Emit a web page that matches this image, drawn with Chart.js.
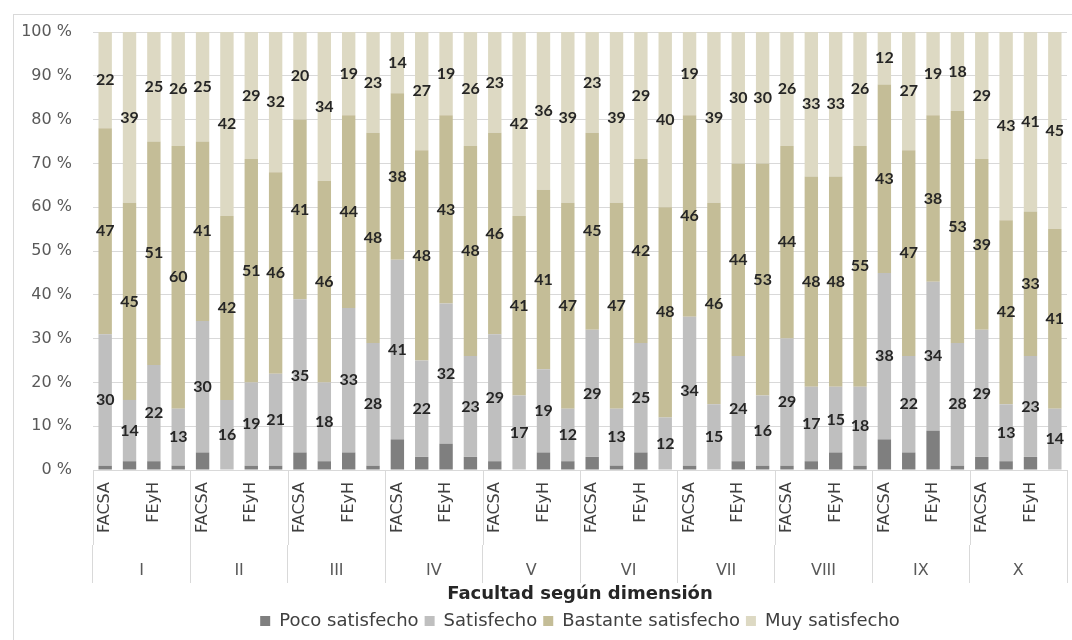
<!DOCTYPE html>
<html>
<head>
<meta charset="utf-8">
<script src="https://cdn.jsdelivr.net/npm/chart.js@4.4.1/dist/chart.umd.min.js"></script>
<style>
  html, body { margin: 0; padding: 0; background: #ffffff; }
  #wrap { position: relative; width: 1072px; height: 640px; overflow: hidden; }
  #frame { position: absolute; left: 13px; top: 14px; width: 1100px; height: 700px;
           border: 1px solid #d9d9d9; pointer-events: none; }
</style>
</head>
<body>
<div id="wrap">
  <canvas id="chart" width="1072" height="640"></canvas>
  <div id="frame"></div>
</div>
<script>
// Dimensions (outer group) and the faculty tick labels shown under each group
const dimensions = ['I', 'II', 'III', 'IV', 'V', 'VI', 'VII', 'VIII', 'IX', 'X'];
const facultyTicks = ['FACSA', '', 'FEyH', ''];
const categories = dimensions.flatMap(() => facultyTicks);

// Percent of respondents per level of satisfaction (4 bars per dimension)
const pocoSatisfecho = [
  1, 2, 2, 1,   4, 0, 1, 1,   4, 2, 4, 1,   7, 3, 6, 3,   2, 0, 4, 2,
  3, 1, 4, 0,   1, 0, 2, 1,   1, 2, 4, 1,   7, 4, 9, 1,   3, 2, 3, 0
];
const satisfecho = [
  30, 14, 22, 13,   30, 16, 19, 21,   35, 18, 33, 28,   41, 22, 32, 23,   29, 17, 19, 12,
  29, 13, 25, 12,   34, 15, 24, 16,   29, 17, 15, 18,   38, 22, 34, 28,   29, 13, 23, 14
];
const bastanteSatisfecho = [
  47, 45, 51, 60,   41, 42, 51, 46,   41, 46, 44, 48,   38, 48, 43, 48,   46, 41, 41, 47,
  45, 47, 42, 48,   46, 46, 44, 53,   44, 48, 48, 55,   43, 47, 38, 53,   39, 42, 33, 41
];
const muySatisfecho = [
  22, 39, 25, 26,   25, 42, 29, 32,   20, 34, 19, 23,   14, 27, 19, 26,   23, 42, 36, 39,
  23, 39, 29, 40,   19, 39, 30, 30,   26, 33, 33, 26,   12, 27, 19, 18,   29, 43, 41, 45
];

const yTicks = [0, 10, 20, 30, 40, 50, 60, 70, 80, 90, 100];

const BASE_FONT = "'DejaVu Sans', 'Open Sans', sans-serif";
const VALUE_FONT = "bold 16px Lato, 'Open Sans', sans-serif";
const LINE = '#d9d9d9';

Chart.defaults.font.family = BASE_FONT;
Chart.defaults.color = '#595959';

// Writes each segment's value in the middle of the segment
const segmentValues = {
  id: 'segmentValues',
  afterDatasetsDraw(chart) {
    const ctx = chart.ctx;
    ctx.save();
    ctx.font = VALUE_FONT;
    ctx.fillStyle = '#262626';
    ctx.textAlign = 'center';
    ctx.textBaseline = 'middle';
    chart.data.datasets.forEach((ds, i) => {
      if (!ds.showValues) return;
      const meta = chart.getDatasetMeta(i);
      meta.data.forEach((bar, j) => {
        ctx.fillText(String(ds.data[j]), bar.x, (bar.y + bar.base) / 2);
      });
    });
    ctx.restore();
  }
};

// Vertical dividers between dimension groups across the faculty label band
const groupDividers = {
  id: 'groupDividers',
  afterDraw(chart) {
    const x = chart.scales.x;
    const ctx = chart.ctx;
    const half = (x.getPixelForValue(1) - x.getPixelForValue(0)) / 2;
    ctx.save();
    ctx.strokeStyle = LINE;
    ctx.lineWidth = 1;
    ctx.beginPath();
    for (let g = 0; g <= dimensions.length; g++) {
      const px = Math.round(x.getPixelForValue(g * facultyTicks.length) - half) + 0.5;
      ctx.moveTo(px, x.top);
      ctx.lineTo(px, x.bottom);
    }
    ctx.stroke();
    ctx.restore();
  }
};

new Chart(document.getElementById('chart'), {
  type: 'bar',
  data: {
    labels: categories,
    datasets: [
      { label: 'Poco satisfecho', data: pocoSatisfecho, backgroundColor: '#7f7f7f', showValues: false },
      { label: 'Satisfecho', data: satisfecho, backgroundColor: '#bfbfbf', showValues: true },
      { label: 'Bastante satisfecho', data: bastanteSatisfecho, backgroundColor: '#c4bd97', showValues: true },
      { label: 'Muy satisfecho', data: muySatisfecho, backgroundColor: '#ddd9c3', showValues: true }
    ]
  },
  options: {
    responsive: false,
    animation: false,
    layout: { padding: { left: 0, top: 32, right: 5, bottom: 0 } },
    datasets: { bar: { categoryPercentage: 1.0, barPercentage: 0.55 } },
    plugins: {
      legend: {
        position: 'bottom',
        fullSize: false,
        labels: {
          boxWidth: 10, boxHeight: 10, padding: 6,
          color: '#404040',
          font: { size: 18 }
        }
      },
      tooltip: { enabled: false }
    },
    scales: {
      x: {
        stacked: true,
        offset: true,
        border: { display: true, color: LINE },
        grid: {
          offset: true, drawOnChartArea: false,
          drawTicks: true, tickLength: 20, tickColor: 'rgba(0,0,0,0)'
        },
        ticks: {
          autoSkip: false, minRotation: 90, maxRotation: 90,
          padding: -8, color: '#404040', font: { size: 16 }
        },
        afterFit: s => { s.height = 75; }
      },
      x2: {
        type: 'category',
        labels: dimensions,
        position: 'bottom',
        offset: true,
        border: { display: false },
        grid: {
          offset: true,
          drawOnChartArea: false,
          drawTicks: true,
          tickLength: 38,
          color: LINE
        },
        ticks: { autoSkip: false, maxRotation: 0, padding: -22, color: '#595959', font: { size: 16 } },
        title: {
          display: true,
          text: 'Facultad según dimensión',
          color: '#262626',
          font: { size: 18, weight: 'bold' },
          padding: { top: 0, bottom: 1 }
        },
        afterFit: s => { s.height = 61; }
      },
      y: {
        stacked: true,
        min: 0,
        max: 100,
        border: { display: false },
        grid: { color: LINE, drawTicks: false },
        afterBuildTicks: s => { s.ticks = yTicks.map(v => ({ value: v })); },
        ticks: {
          padding: 21,
          color: '#595959',
          font: { size: 16 },
          callback: v => v + ' %'
        },
        afterFit: s => { s.width = 93; }
      }
    }
  },
  plugins: [segmentValues, groupDividers]
});
</script>
</body>
</html>
